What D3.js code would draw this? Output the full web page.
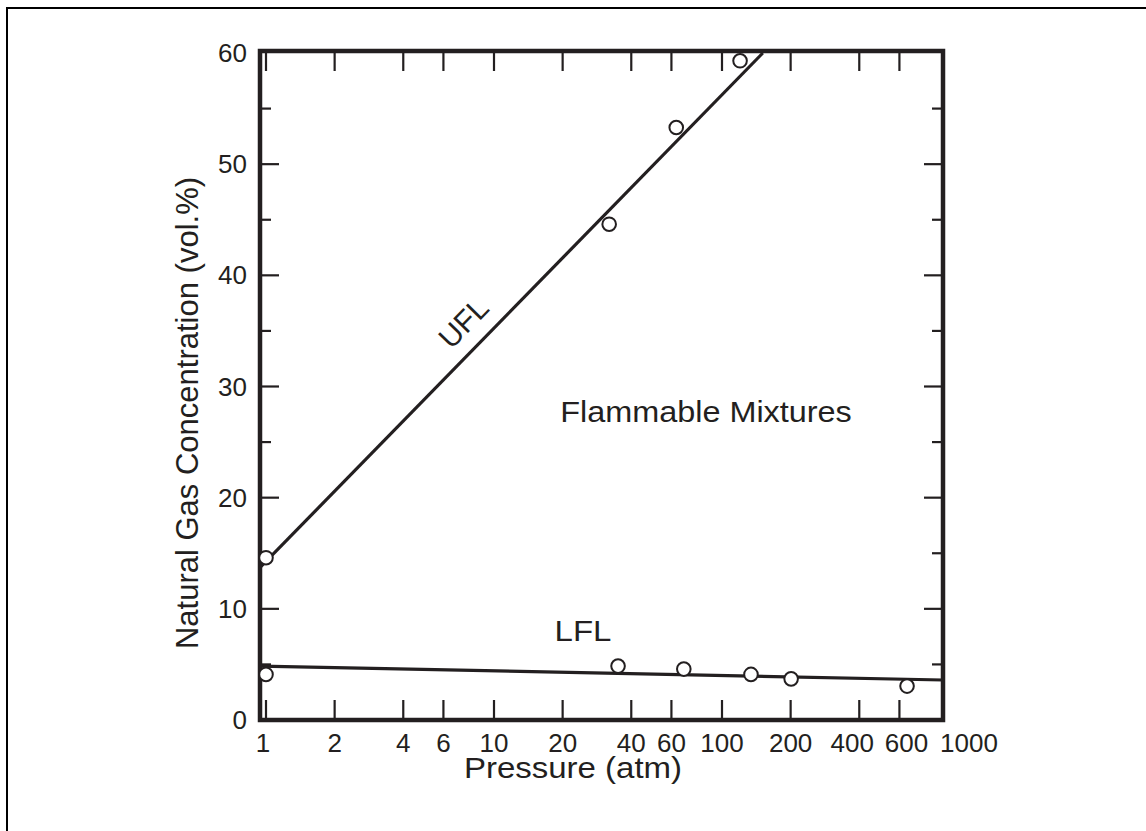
<!DOCTYPE html>
<html><head><meta charset="utf-8">
<script src="https://cdn.jsdelivr.net/npm/d3@7/dist/d3.min.js"></script>
<style>
body{margin:0;background:#fff}
text{font-family:"Liberation Sans", Arial, Helvetica, sans-serif; fill:#231f20}
</style>
</head><body>
<svg id="c" width="1146" height="831"></svg>
<script>
// ---- data ----
const xTickValues = [1, 2, 4, 6, 10, 20, 40, 60, 100, 200, 400, 600, 1000];
const yMajorTicks = [0, 10, 20, 30, 40, 50, 60];
const yMinorTicks = [5, 15, 25, 35, 45, 55];
const uflPressure = [1, 32, 63, 120];
const uflConc = [14.6, 44.6, 53.3, 59.3];
const lflPressure = [1, 35, 68, 134, 201, 648];
const lflConc = [4.1, 4.85, 4.58, 4.1, 3.7, 3.05];
const uflFitPressure = [0.94, 151];
const uflFitConc = [13.7, 60];
const lflFitPressure = [0.94, 930];
const lflFitConc = [4.85, 3.6];

// ---- layout ----
const ink = "#231f20";
const frame = {left: 260, right: 943, top: 51, bottom: 720};
const svg = d3.select("#c");

const x = d3.scaleLog().domain([1, 1000]).range([266, 950]);
const y = d3.scaleLinear().domain([0, 60]).range([720, 53]);

function label(parent, tx, ty, str, size, anchor, sx, rot) {
  return parent.append("text")
    .attr("transform", `translate(${tx},${ty})` + (rot ? ` rotate(${rot})` : "") + (sx ? ` scale(${sx},1)` : ""))
    .attr("text-anchor", anchor).attr("font-size", size).text(str);
}

// outer border
svg.append("rect").attr("x", 7).attr("y", 8).attr("width", 1200).attr("height", 900)
  .attr("fill", "none").attr("stroke", "#000").attr("stroke-width", 2);

svg.append("clipPath").attr("id", "plotclip").append("rect")
  .attr("x", frame.left).attr("y", frame.top)
  .attr("width", frame.right - frame.left).attr("height", frame.bottom - frame.top);

const g = svg.append("g");

// x ticks (bottom & top, inside)
const innerX = xTickValues.filter(v => x(v) > frame.left + 3 && x(v) < frame.right - 3);
g.selectAll(".xtb").data(innerX).join("line")
  .attr("x1", d => x(d)).attr("x2", d => x(d))
  .attr("y1", frame.bottom).attr("y2", frame.bottom - 20)
  .attr("stroke", ink).attr("stroke-width", 2.2);
g.selectAll(".xtt").data(innerX).join("line")
  .attr("x1", d => x(d)).attr("x2", d => x(d))
  .attr("y1", frame.top).attr("y2", frame.top + 20)
  .attr("stroke", ink).attr("stroke-width", 2.2);

// y ticks (left & right, inside)
const yMaj = yMajorTicks.filter(v => v > 0 && v < 60);
[[yMaj, 19], [yMinorTicks, 11]].forEach(([vals, len]) => {
  g.selectAll(null).data(vals).join("line")
    .attr("x1", frame.left).attr("x2", frame.left + len)
    .attr("y1", d => y(d)).attr("y2", d => y(d))
    .attr("stroke", ink).attr("stroke-width", 2.2);
  g.selectAll(null).data(vals).join("line")
    .attr("x1", frame.right).attr("x2", frame.right - len)
    .attr("y1", d => y(d)).attr("y2", d => y(d))
    .attr("stroke", ink).attr("stroke-width", 2.2);
});

// tick labels (small nudges where the original labels crowd together)
const xLabelNudge = v => v === 1 ? -3 : v === 400 ? -7 : v === 600 ? 7 : 0;
g.selectAll(".xl").data(xTickValues).join("text")
  .attr("x", d => d === 1000 ? frame.right - 3 : x(d) + xLabelNudge(d)).attr("y", 752)
  .attr("text-anchor", d => d === 1000 ? "start" : "middle")
  .attr("font-size", 26).text(d => d);
g.selectAll(".yl").data(yMajorTicks).join("text")
  .attr("x", 247).attr("y", d => y(d) + 9)
  .attr("text-anchor", "end").attr("font-size", 26).text(d => d);

// axis titles
label(svg, 573, 778, "Pressure (atm)", 30, "middle", 1.1);
label(svg, 198, 413, "Natural Gas Concentration (vol.%)", 31, "middle", null, -90);

// fit lines
const lineGen = d3.line().x(d => x(d[0])).y(d => y(d[1]));
const plot = svg.append("g").attr("clip-path", "url(#plotclip)");
plot.append("path").datum(d3.zip(uflFitPressure, uflFitConc)).attr("d", lineGen)
  .attr("fill", "none").attr("stroke", ink).attr("stroke-width", 3.2);
plot.append("path").datum(d3.zip(lflFitPressure, lflFitConc)).attr("d", lineGen)
  .attr("fill", "none").attr("stroke", ink).attr("stroke-width", 3.2);

// frame
svg.append("rect").attr("x", frame.left).attr("y", frame.top)
  .attr("width", frame.right - frame.left).attr("height", frame.bottom - frame.top)
  .attr("fill", "none").attr("stroke", ink).attr("stroke-width", 4.5);

// points
const pts = svg.append("g");
pts.selectAll(".u").data(d3.zip(uflPressure, uflConc)).join("circle")
  .attr("cx", d => x(d[0])).attr("cy", d => y(d[1])).attr("r", 6.8)
  .attr("fill", "#fff").attr("stroke", ink).attr("stroke-width", 2);
pts.selectAll(".l").data(d3.zip(lflPressure, lflConc)).join("circle")
  .attr("cx", d => x(d[0])).attr("cy", d => y(d[1])).attr("r", 6.8)
  .attr("fill", "#fff").attr("stroke", ink).attr("stroke-width", 2);

// annotations
label(svg, 471, 330, "UFL", 30, "middle", null, -45.8);
label(svg, 583, 641, "LFL", 30, "middle", 1.1);
label(svg, 706, 422, "Flammable Mixtures", 30, "middle", 1.08);
</script>
</body></html>
